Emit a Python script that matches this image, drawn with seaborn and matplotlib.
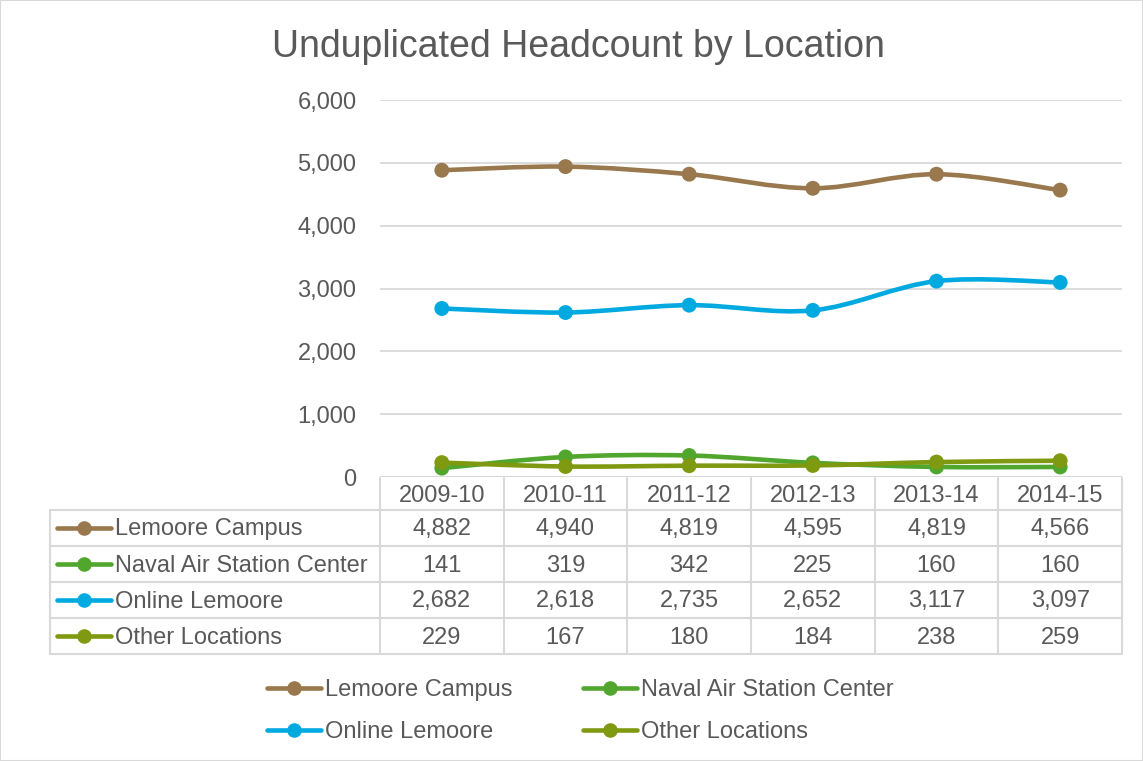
import numpy as np
import pandas as pd
import matplotlib
matplotlib.use("Agg")
import matplotlib.pyplot as plt
import seaborn as sns
from matplotlib.path import Path
from matplotlib.patches import PathPatch, Rectangle
from matplotlib.lines import Line2D
from matplotlib.transforms import blended_transform_factory

# data
years = ["2009-10", "2010-11", "2011-12", "2012-13", "2013-14", "2014-15"]
lemoore_campus = [4882, 4940, 4819, 4595, 4819, 4566]
naval_air = [141, 319, 342, 225, 160, 160]
online_lemoore = [2682, 2618, 2735, 2652, 3117, 3097]
other_locations = [229, 167, 180, 184, 238, 259]

series_names = ["Lemoore Campus", "Naval Air Station Center", "Online Lemoore", "Other Locations"]
series_values = [lemoore_campus, naval_air, online_lemoore, other_locations]
colors = ["#98784C", "#51A62D", "#00AAE0", "#7F9A10"]

W, H = 1143, 761
TXT = "#595959"
GRID = "#D9D9D9"
FS = 17

sns.set_style("white")
plt.rcParams["font.family"] = ["Liberation Sans", "DejaVu Sans"]

fig = plt.figure(figsize=(W / 100, H / 100), dpi=100)


def fx(px):
    return px / W


def fy(py):
    return 1 - py / H


ax = fig.add_axes([fx(380), fy(477), fx(1122) - fx(380), fy(100) - fy(477)])

df = pd.DataFrame({"year": np.tile(np.arange(len(years)), len(series_names)),
                   "value": np.concatenate(series_values),
                   "location": np.repeat(series_names, len(years))})


def smooth_path(xs, ys):
    # bezier segments between the points, like excel's smoothed line
    pts = np.column_stack([xs, ys]).astype(float)
    verts = [pts[0]]
    codes = [Path.MOVETO]
    n = len(pts)
    for i in range(n - 1):
        p0 = pts[i - 1] if i > 0 else pts[i]
        p1 = pts[i]
        p2 = pts[i + 1]
        p3 = pts[i + 2] if i + 2 < n else pts[i + 1]
        c1 = p1 + (p2 - p0) / 6
        c2 = p2 - (p3 - p1) / 6
        verts += [c1, c2, p2]
        codes += [Path.CURVE4] * 3
    return Path(verts, codes)


for k, (name, col) in enumerate(zip(series_names, colors)):
    sub = df[df["location"] == name]
    ax.add_patch(PathPatch(smooth_path(sub["year"], sub["value"]), facecolor="none",
                           edgecolor=col, lw=3.3, capstyle="round", zorder=3 + 2 * k))
    sns.scatterplot(data=sub, x="year", y="value", color=col, s=115, edgecolor="none",
                    ax=ax, zorder=4 + 2 * k, legend=False)

ax.set_xlim(-0.5, len(years) - 0.5)
ax.set_ylim(0, 6000)
ax.set_yticks(range(0, 6001, 1000))
ax.set_yticklabels([f"{v:,}" for v in range(0, 6001, 1000)], fontsize=FS, color=TXT)
ax.set_xticks([])
ax.set_xlabel("")
ax.set_ylabel("")
ax.tick_params(axis="y", length=0, pad=17)
ax.grid(axis="y", color=GRID, lw=1.3)
ax.grid(axis="x", visible=False)
for s in ax.spines.values():
    s.set_visible(False)
ax.axhline(0, color=GRID, lw=1.5, zorder=2)

# data table under the plot
tr = blended_transform_factory(ax.transData, fig.transFigure)
row_edges = [478, 510, 546, 582, 618, 654]
lkw = dict(color=GRID, lw=1.5, clip_on=False)
for y in row_edges[1:]:
    fig.add_artist(Line2D([fx(50), fx(1122)], [fy(y), fy(y)], **lkw))
fig.add_artist(Line2D([fx(50), fx(50)], [fy(510), fy(654)], **lkw))
for i in range(len(years) + 1):
    xb = i - 0.5
    fig.add_artist(Line2D([xb, xb], [fy(478), fy(654)], transform=tr, **lkw))

for i, yr in enumerate(years):
    fig.text(i, fy(496), yr, transform=tr, ha="center", va="center", fontsize=FS, color=TXT)

for r, (name, vals, col) in enumerate(zip(series_names, series_values, colors)):
    yc = (row_edges[r + 1] + row_edges[r + 2]) / 2
    fig.add_artist(Line2D([fx(57), fx(111)], [fy(yc), fy(yc)], color=col, lw=3.3,
                          solid_capstyle="round"))
    fig.add_artist(Line2D([fx(84)], [fy(yc)], color=col, marker="o", markersize=10.5,
                          markeredgewidth=0, linestyle=""))
    fig.text(fx(115), fy(yc + 1.5), name, ha="left", va="center", fontsize=FS, color=TXT)
    for i, v in enumerate(vals):
        fig.text(i, fy(yc + 1.5), f"{v:,}", transform=tr, ha="center", va="center",
                 fontsize=FS, color=TXT)

# legend
handles = [Line2D([], [], color=c, lw=3.3, marker="o", markersize=10.5, markeredgewidth=0,
                  solid_capstyle="round")
           for c in colors]
order = [0, 2, 1, 3]
fig.legend([handles[i] for i in order], [series_names[i] for i in order], ncol=2,
           loc="center", bbox_to_anchor=(fx(580), fy(711)), frameon=False,
           fontsize=FS, labelcolor=TXT, handlelength=2.3, handletextpad=0.15,
           columnspacing=3.0, labelspacing=0.86)

fig.text(fx(578), fy(47), "Unduplicated Headcount by Location", ha="center", va="center",
         fontsize=27, color=TXT)

fig.add_artist(Rectangle((0, 0), 1, 1, transform=fig.transFigure, fill=False,
                         edgecolor=GRID, lw=1.5))

fig.savefig("out.png", dpi=100)
